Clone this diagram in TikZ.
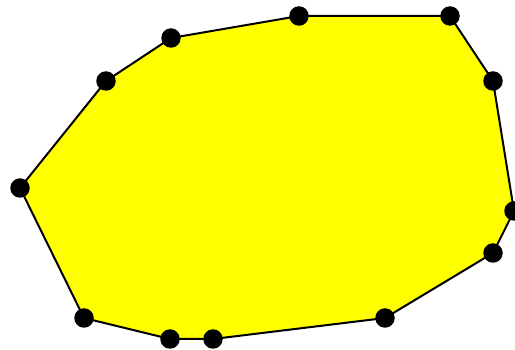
\documentclass[tikz,border=0pt]{standalone}
\usepackage{xcolor}
\usepackage{tikz}
\definecolor{polyyellow}{RGB}{255,255,0}

\begin{document}
\begin{tikzpicture}[x=1pt, y=-1pt, vertex/.style={circle, fill=black, inner sep=0pt, minimum size=19.5pt}]
  \useasboundingbox (0,0) rectangle (515,350);
  \foreach \n/\px/\py in {1/20/188, 2/106/81, 3/171/38, 4/299/16, 5/450/16, 6/493/81,
      7/514/211, 8/493/253, 9/385/318, 10/213/339, 11/170/339, 12/84/318}
    \coordinate (c\n) at (\px,\py);

  \filldraw[fill=polyyellow, line width=2pt] (c1) -- (c2) -- (c3) -- (c4) -- (c5) -- (c6)
    -- (c7) -- (c8) -- (c9) -- (c10) -- (c11) -- (c12) -- cycle;

  \foreach \n in {1,...,12}
    \node[vertex] (v\n) at (c\n) {};
\end{tikzpicture}
\end{document}
